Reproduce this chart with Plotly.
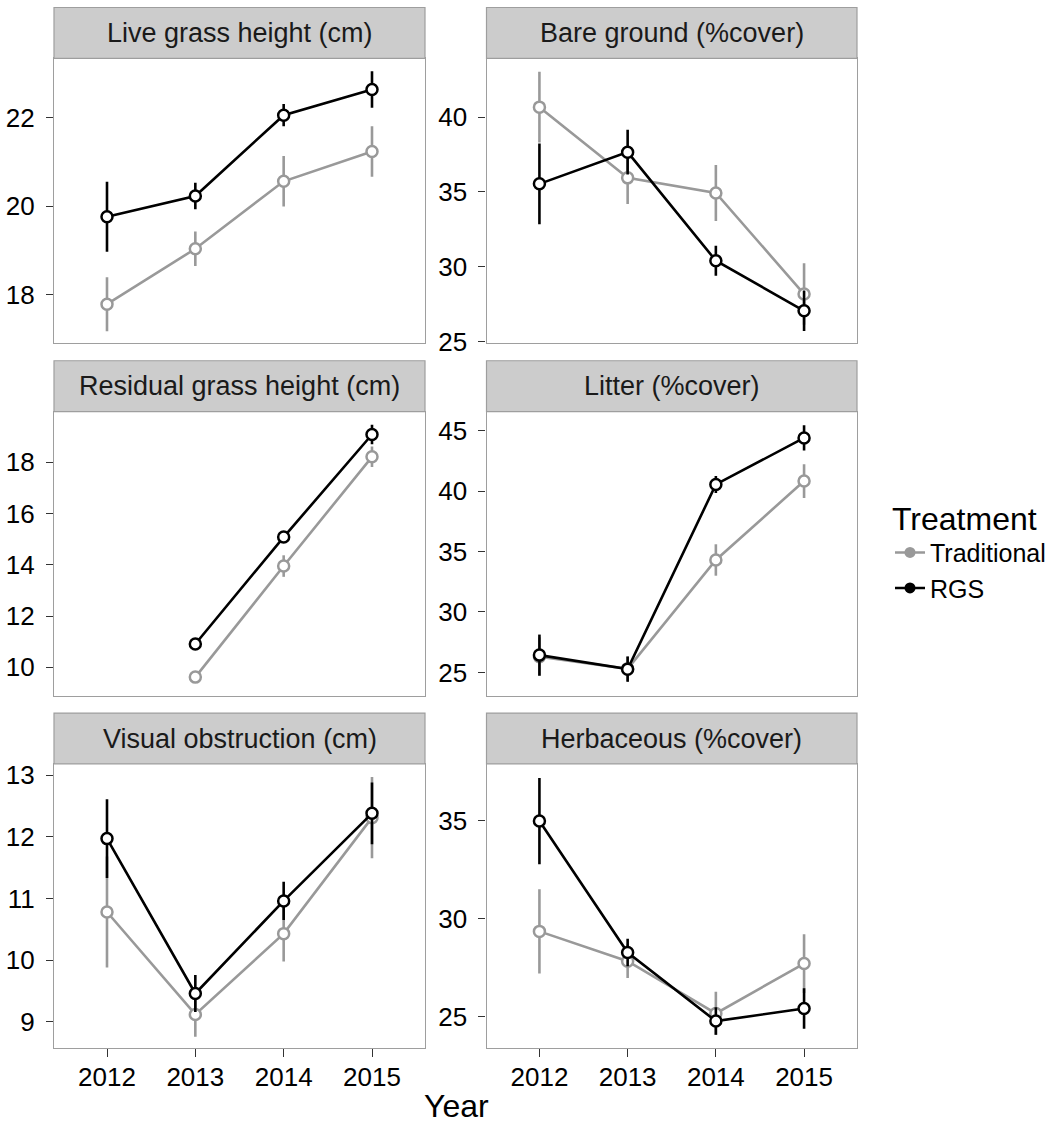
import plotly.graph_objects as go

years = [2012, 2013, 2014, 2015]
panel_titles = ["Live grass height (cm)", "Bare ground (%cover)",
                "Residual grass height (cm)", "Litter (%cover)",
                "Visual obstruction (cm)", "Herbaceous (%cover)"]
treatments = ["Traditional", "RGS"]

live_trad = [17.79, 19.04, 20.56, 21.23]
live_trad_se = [0.61, 0.39, 0.57, 0.57]
live_rgs = [19.76, 20.23, 22.05, 22.63]
live_rgs_se = [0.79, 0.30, 0.25, 0.41]

bare_trad = [40.67, 35.94, 34.93, 28.17]
bare_trad_se = [2.37, 1.75, 1.87, 2.06]
bare_rgs = [35.54, 37.66, 30.40, 27.05]
bare_rgs_se = [2.70, 1.50, 1.00, 1.35]

resid_trad = [None, 9.62, 13.95, 18.21]
resid_trad_se = [None, 0.15, 0.42, 0.40]
resid_rgs = [None, 10.91, 15.08, 19.08]
resid_rgs_se = [None, 0.15, 0.20, 0.38]

litter_trad = [26.30, 25.30, 34.30, 40.83]
litter_trad_se = [1.60, 1.00, 1.30, 1.40]
litter_rgs = [26.43, 25.27, 40.55, 44.40]
litter_rgs_se = [1.70, 1.05, 0.70, 1.05]

vis_trad = [10.78, 9.12, 10.43, 12.31]
vis_trad_se = [0.90, 0.36, 0.45, 0.66]
vis_rgs = [11.97, 9.46, 10.96, 12.38]
vis_rgs_se = [0.64, 0.30, 0.31, 0.50]

herb_trad = [29.35, 27.83, 25.17, 27.71]
herb_trad_se = [2.15, 0.85, 1.10, 1.50]
herb_rgs = [34.97, 28.27, 24.78, 25.42]
herb_rgs_se = [2.20, 0.70, 0.70, 1.03]

y_ranges = [[16.92, 23.33], [24.91, 43.93], [8.88, 19.97],
            [23.04, 46.57], [8.57, 13.18], [23.39, 37.88]]
y_ticks = [[18, 20, 22], [25, 30, 35, 40], [10, 12, 14, 16, 18],
           [25, 30, 35, 40, 45], [9, 10, 11, 12, 13], [25, 30, 35]]

panels = [
    (live_trad, live_trad_se, live_rgs, live_rgs_se),
    (bare_trad, bare_trad_se, bare_rgs, bare_rgs_se),
    (resid_trad, resid_trad_se, resid_rgs, resid_rgs_se),
    (litter_trad, litter_trad_se, litter_rgs, litter_rgs_se),
    (vis_trad, vis_trad_se, vis_rgs, vis_rgs_se),
    (herb_trad, herb_trad_se, herb_rgs, herb_rgs_se),
]

W, H = 1060, 1125
FONT = "Liberation Sans, Arial, Helvetica, sans-serif"
colors = {"Traditional": "#999999", "RGS": "#000000"}
BORDER = "#9E9E9E"


def vy(y):
    # vertical layout position (px from top) used for placement
    return (y - 3.5) / 0.986


col_x = [(54, 425), (486.5, 857)]
row_y = [(58, 343), (412, 697), (765, 1050)]  # panel top/bottom in px from top
STRIP_H = 51

fig = go.Figure()
layout = dict(
    width=W, height=H, margin=dict(l=0, r=0, t=0, b=0),
    plot_bgcolor="white", paper_bgcolor="white",
    font=dict(family=FONT, size=25, color="#000000"),
    shapes=[], annotations=[],
)

for i, (title, data) in enumerate(zip(panel_titles, panels)):
    r, c = divmod(i, 2)
    x0, x1 = col_x[c]
    top, bot = row_y[r]
    ax = "" if i == 0 else str(i + 1)
    xname, yname = "xaxis" + ax, "yaxis" + ax
    xref, yref = "x" + ax, "y" + ax
    t_mean, t_se, g_mean, g_se = data
    for name, mean, se in (("Traditional", t_mean, t_se), ("RGS", g_mean, g_se)):
        fig.add_trace(go.Scatter(
            x=years, y=mean, xaxis=xref, yaxis=yref, mode="lines+markers",
            name=name, showlegend=False, connectgaps=False,
            line=dict(color=colors[name], width=2.6),
            marker=dict(symbol="circle", size=11, color="white",
                        line=dict(color=colors[name], width=2.5)),
            error_y=dict(type="data", array=se, visible=True, width=0,
                         thickness=2.6, color=colors[name]),
        ))
    bottom_row = (r == 2)
    layout[xname] = dict(
        domain=[x0 / W, x1 / W], anchor=yref, range=[2011.4, 2015.6],
        tickvals=years, ticktext=[str(y) for y in years],
        showticklabels=bottom_row, ticks="outside" if bottom_row else "",
        ticklen=8, tickwidth=1.3, tickcolor="#333333",
        tickfont=dict(size=26, color="#000000"),
        showgrid=False, zeroline=False, showline=True, linecolor=BORDER,
        linewidth=1.2, mirror=True, fixedrange=True, ticklabelstandoff=-3,
    )
    layout[yname] = dict(
        domain=[(H - vy(bot)) / H, (H - vy(top)) / H], anchor=xref,
        range=y_ranges[i],
        tickvals=y_ticks[i], ticks="outside", ticklen=7, tickwidth=1.3,
        tickcolor="#333333", tickfont=dict(size=26, color="#000000"),
        showgrid=False, zeroline=False, showline=True, linecolor=BORDER,
        linewidth=1.2, mirror=True, fixedrange=True, ticklabelstandoff=6,
    )
    # strip
    layout["shapes"].append(dict(
        type="rect", xref="paper", yref="paper",
        x0=x0 / W, x1=x1 / W, y0=(H - vy(top)) / H,
        y1=(H - vy(top - STRIP_H)) / H,
        fillcolor="#CCCCCC", line=dict(color=BORDER, width=1.2), layer="above",
    ))
    layout["annotations"].append(dict(
        text=title, xref="paper", yref="paper",
        x=(x0 + x1) / 2 / W, y=(H - vy(top - STRIP_H / 2)) / H,
        xanchor="center", yanchor="middle", showarrow=False,
        font=dict(size=27, color="#1A1A1A", family=FONT),
    ))

# x-axis title
layout["annotations"].append(dict(
    text="Year", xref="paper", yref="paper", x=456 / W, y=(H - vy(1108)) / H,
    xanchor="center", yanchor="middle", showarrow=False,
    font=dict(size=32, color="#000000", family=FONT),
))

# legend entries (key glyphs)
for name in treatments:
    fig.add_trace(go.Scatter(
        x=[None], y=[None], mode="lines+markers", name=name,
        legendgroup=name, showlegend=True,
        line=dict(color=colors[name], width=2.6),
        marker=dict(symbol="circle", size=11, color=colors[name],
                    line=dict(color=colors[name], width=0)),
    ))

layout["legend"] = dict(
    title=dict(text="Treatment", font=dict(size=32, color="#000000", family=FONT)),
    x=890 / W, xanchor="left", y=(H - 492) / H, yanchor="top",
    font=dict(size=25, color="#000000", family=FONT),
    bgcolor="rgba(0,0,0,0)", tracegroupgap=4, traceorder="normal",
    itemwidth=30,
)

fig.update_layout(**layout)
fig.write_html("out.html", config={"displayModeBar": False},
               post_script="document.body.style.margin='0';")
